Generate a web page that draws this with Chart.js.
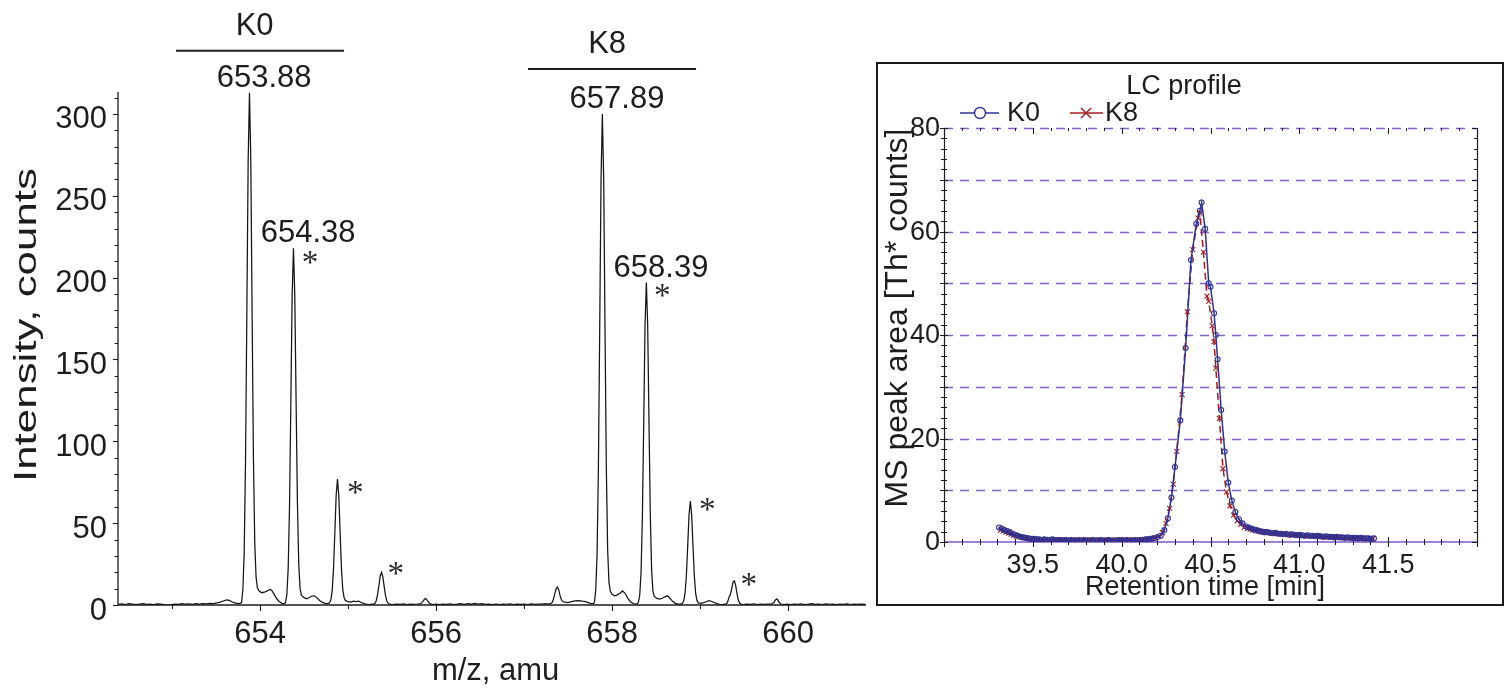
<!DOCTYPE html>
<html>
<head>
<meta charset="utf-8">
<script src="https://cdn.jsdelivr.net/npm/chart.js@4.4.1/dist/chart.umd.min.js"></script>
<style>
  html, body { margin: 0; padding: 0; background: #ffffff; width: 1505px; height: 689px; overflow: hidden; }
  #msWrap { position: absolute; left: 0; top: 0; width: 876px; height: 689px; }
  #box { position: absolute; left: 876px; top: 62px; width: 628px; height: 544px; border: 2px solid #1a1a1a; box-sizing: border-box; }
  #lcWrap { position: absolute; left: 0; top: 0; width: 624px; height: 540px; }
</style>
</head>
<body>
<div id="msWrap"><canvas id="ms" width="876" height="689"></canvas></div>
<div id="box"><div id="lcWrap"><canvas id="lc" width="624" height="540"></canvas></div></div>
<script>
// ---------------- DATA: mass spectrum (left) ----------------
const msMz = [
  652.39,652.43,652.47,652.51,652.55,652.59,652.63,652.67,652.71,652.75,652.79,652.83,652.87,652.91,652.95,652.99,653.03,653.07,653.11,653.15,653.19,653.23,653.27,653.31,653.35,653.39,653.43,653.47,
  653.51,653.55,653.59,653.62,653.65,653.68,653.71,653.74,653.77,
  653.79,653.805,653.82,653.835,653.85,653.865,653.88,653.895,653.91,653.925,653.94,653.955,653.97,653.99,
  654.02,654.05,654.08,654.11,654.13,654.16,654.19,654.22,654.25,654.28,
  654.29,654.305,654.32,654.335,654.35,654.365,654.38,654.395,654.41,654.425,654.44,654.455,654.47,
  654.50,654.53,654.56,654.59,654.62,654.65,654.68,654.71,654.74,654.77,
  654.79,654.805,654.82,654.835,654.85,654.865,654.88,654.895,654.91,654.925,654.94,654.955,654.97,
  655.00,655.03,655.06,655.09,655.12,655.15,655.18,655.21,655.24,655.27,
  655.29,655.305,655.32,655.335,655.35,655.365,655.38,655.395,655.41,655.425,655.44,655.455,655.47,
  655.51,655.55,655.59,655.63,655.67,655.71,655.75,655.79,
  655.83,655.85,655.865,655.88,655.895,655.91,655.93,655.96,
  656.00,656.04,656.08,656.12,656.16,656.20,656.24,656.28,656.32,656.36,656.40,656.44,656.48,656.52,656.56,656.60,656.64,656.68,656.72,656.76,656.80,656.84,656.88,656.92,656.96,657.00,657.04,657.08,657.12,657.16,657.20,657.24,657.28,
  657.30,657.32,657.335,657.35,657.365,657.38,657.395,657.41,657.425,657.44,657.46,
  657.50,657.54,657.58,657.62,657.66,657.70,657.73,657.76,657.79,
  657.80,657.815,657.83,657.845,657.86,657.875,657.89,657.905,657.92,657.935,657.95,657.965,657.98,
  658.00,658.03,658.06,658.09,658.12,658.15,658.18,658.21,658.24,658.27,658.29,
  658.30,658.315,658.33,658.345,658.36,658.375,658.39,658.405,658.42,658.435,658.45,658.465,658.48,
  658.51,658.54,658.57,658.60,658.63,658.66,658.69,658.72,658.75,658.78,
  658.80,658.815,658.83,658.845,658.86,658.875,658.89,658.905,658.92,658.935,658.95,658.965,658.98,
  659.01,659.04,659.07,659.10,659.13,659.16,659.19,659.22,659.25,659.28,
  659.30,659.315,659.33,659.345,659.36,659.375,659.39,659.405,659.42,659.435,659.45,659.465,
  659.49,659.53,659.57,659.61,659.65,659.69,659.73,659.77,659.81,
  659.84,659.855,659.87,659.885,659.90,659.92,659.95,
  659.99,660.03,660.07,660.11,660.15,660.19,660.23,660.27,660.31,660.35,660.39,660.43,660.47,660.51,660.55,660.59,660.63,660.67,660.71,660.75,660.79,660.83,660.88
];
const msIntensity = [
  0.4,0.7,0.3,0.8,0.5,0.2,0.6,0.9,0.4,0.6,0.3,0.7,0.5,0.2,0.1,0.3,0.6,0.4,0.8,0.5,0.7,0.4,0.9,0.6,0.8,0.7,1.0,0.9,
  1.3,1.8,2.6,3.1,2.8,2.0,1.3,1.0,0.9,
  1.5,9.5,32,87,177,271,313,272,178,90,38,17,10.5,8.5,
  7.5,7.8,8.6,9.5,9.2,6.5,3.8,2.0,1.0,0.8,
  1.6,6.5,22.5,60,123,189,218,189,124,62,25,10,6,
  4.5,3.8,4.6,5.5,5.6,4.2,2.6,1.6,1.0,0.9,
  1.4,3.2,8.8,22,44,67,77,67,44.5,22.5,9.5,4.5,2.8,
  2.0,1.8,2.3,2.0,2.4,1.5,0.8,0.5,0.3,0.5,
  0.5,0.9,2.6,6.2,11.5,17.5,20,17.5,11.5,6,2.6,1.1,0.5,
  0.3,0.6,0.4,0.7,0.3,0.5,0.4,0.6,
  0.9,2.0,3.3,4.0,3.3,2.0,0.8,0.3,
  0.5,0.2,0.6,0.4,0.7,0.3,0.5,0.8,0.4,0.9,0.6,1.0,0.5,0.8,0.4,0.6,0.3,0.5,0.2,0.6,0.4,0.7,0.3,0.5,0.4,0.6,0.3,0.7,0.4,0.6,0.5,0.8,0.6,
  0.8,1.6,3.6,7.0,10,11,9.2,5.6,3.2,2.1,1.7,
  1.5,2.0,2.5,2.7,2.3,2.0,1.4,0.8,0.9,
  1.6,9,31,83,169,260,300,261,170,85,34,14,8.5,
  6.5,5.6,6.2,7.2,8.6,7.0,4.0,2.0,0.9,0.5,0.8,
  1.8,6.2,20,54,111,171,197,171,112,55,21,8.5,5.2,
  4.0,3.6,4.1,5.0,5.6,4.0,2.1,1.0,0.5,0.6,
  1.0,2.6,7.2,18,36,55,63.5,55,36,18,7.2,2.8,1.3,
  1.0,1.4,2.0,2.6,2.3,1.5,0.8,0.4,0.3,0.5,
  0.6,2.1,4.8,6.5,10,14,14.7,12,7,3,1.2,0.5,
  0.3,0.6,0.4,0.7,0.3,0.5,0.4,0.6,0.5,
  1.5,3.0,3.7,3.0,1.5,0.6,0.3,
  0.5,0.2,0.6,0.4,0.7,0.3,0.5,0.8,0.4,0.6,0.3,0.7,0.4,0.5,0.3,0.6,0.4,0.7,0.3,0.5,0.4,0.6,0.4
];
const msTickValues = [654, 656, 658, 660];
const msMinorTickValues = [653, 655, 657, 659];
const intensityTickValues = [0, 50, 100, 150, 200, 250, 300];
const groupNames = ['K0', 'K8'];
const groupCenterMz = [654, 658];
const peakLabelMz = [653.88, 654.38, 657.89, 658.39];
const peakLabelText = ['653.88', '654.38', '657.89', '658.39'];
const peakLabelHeight = [313, 218, 300, 197];
const starMz = [654.57, 655.085, 655.545, 658.574, 659.085, 659.557];
const starLevel = [212.3, 71.5, 22, 192.1, 61.4, 15.3];

// ---------------- DATA: LC profile (right) ----------------
const k0Time = [
  39.310,39.325,39.340,39.355,39.370,39.385,39.400,39.415,39.430,39.445,
  39.460,39.475,39.490,39.505,39.520,39.535,39.550,39.565,39.580,39.595,39.610,39.625,39.640,39.655,39.670,39.685,39.700,39.715,39.730,39.745,
  39.760,39.775,39.790,39.805,39.820,39.835,39.850,39.865,39.880,39.895,39.910,39.925,39.940,39.955,39.970,39.985,40.000,40.015,40.030,40.045,
  40.060,40.075,40.090,40.105,40.120,40.135,40.150,40.165,40.180,
  40.20,40.22,40.24,40.26,40.28,40.30,40.33,40.36,40.39,40.42,40.44,40.45,40.47,40.49,40.50,40.52,40.53,40.54,40.56,40.58,40.60,40.62,40.64,40.66,40.68,40.70,
  40.715,40.730,40.745,40.760,40.775,40.790,40.805,40.820,40.835,40.850,40.865,40.880,40.895,40.910,40.925,40.940,40.955,40.970,40.985,41.000,
  41.015,41.030,41.045,41.060,41.075,41.090,41.105,41.120,41.135,41.150,41.165,41.180,41.195,41.210,41.225,41.240,41.255,41.270,41.285,41.300,
  41.315,41.330,41.345,41.360,41.375,41.390,41.405,41.420
];
const k0Area = [
  2.8,2.6,2.3,2.1,1.9,1.6,1.4,1.2,1.0,0.9,
  0.8,0.7,0.6,0.6,0.5,0.5,0.4,0.5,0.4,0.4,0.5,0.3,0.4,0.4,0.3,0.4,0.3,0.4,0.3,0.3,
  0.4,0.3,0.4,0.3,0.3,0.4,0.3,0.3,0.4,0.3,0.3,0.4,0.3,0.3,0.3,0.4,0.3,0.3,0.4,0.3,
  0.3,0.4,0.3,0.4,0.4,0.5,0.5,0.6,0.7,
  0.9,1.2,2.3,4.6,8.6,14.5,23.5,37.5,54.5,61.5,64.0,65.6,60.5,50.0,49.3,44.2,40.0,35.3,25.5,17.5,11.5,8.0,5.8,4.4,3.6,3.0,
  2.8,2.6,2.4,2.3,2.1,2.0,1.9,1.9,1.8,1.7,1.8,1.6,1.6,1.5,1.6,1.4,1.5,1.4,1.3,1.4,
  1.3,1.2,1.3,1.2,1.2,1.1,1.2,1.1,1.0,1.1,1.0,1.0,0.9,1.0,0.9,0.9,0.8,0.9,0.8,0.8,
  0.8,0.7,0.8,0.7,0.7,0.7,0.6,0.7
];
const k8Time = [
  39.318,39.333,39.348,39.363,39.378,39.393,39.408,39.423,39.438,39.453,
  39.468,39.483,39.498,39.513,39.528,39.543,39.558,39.573,39.588,39.603,39.618,39.633,39.648,39.663,39.678,39.693,39.708,39.723,39.738,39.753,
  39.768,39.783,39.798,39.813,39.828,39.843,39.858,39.873,39.888,39.903,39.918,39.933,39.948,39.963,39.978,39.993,40.008,40.023,40.038,40.053,
  40.068,40.083,40.098,40.113,40.128,40.143,40.158,40.173,40.188,
  40.21,40.23,40.25,40.27,40.29,40.31,40.34,40.37,40.40,40.43,40.44,40.46,40.48,40.49,40.51,40.52,40.53,40.55,40.57,40.59,40.61,40.63,40.65,40.67,40.69,
  40.708,40.723,40.738,40.753,40.768,40.783,40.798,40.813,40.828,40.843,40.858,40.873,40.888,40.903,40.918,40.933,40.948,40.963,40.978,40.993,
  41.008,41.023,41.038,41.053,41.068,41.083,41.098,41.113,41.128,41.143,41.158,41.173,41.188,41.203,41.218,41.233,41.248,41.263,41.278,41.293,
  41.308,41.323,41.338,41.353,41.368,41.383,41.398,41.413
];
const k8Area = [
  2.3,2.1,1.9,1.7,1.5,1.3,1.1,1.0,0.9,0.8,
  0.7,0.6,0.6,0.5,0.5,0.4,0.4,0.5,0.3,0.4,0.4,0.3,0.4,0.3,0.4,0.3,0.3,0.4,0.3,0.4,
  0.3,0.3,0.4,0.3,0.4,0.3,0.3,0.4,0.3,0.3,0.4,0.3,0.3,0.4,0.3,0.3,0.4,0.3,0.4,0.3,
  0.4,0.3,0.4,0.4,0.5,0.5,0.6,0.7,0.8,
  1.1,1.8,3.6,6.5,11.2,17.5,28.5,44.5,56.5,62.6,63.6,56.0,47.5,46.5,41.8,38.7,33.6,23.9,14.2,9.7,7.0,5.2,4.1,3.4,2.8,
  2.6,2.5,2.3,2.2,2.1,2.0,1.9,1.8,1.8,1.7,1.7,1.6,1.6,1.5,1.5,1.4,1.5,1.3,1.4,1.3,
  1.3,1.2,1.2,1.2,1.1,1.2,1.1,1.1,1.0,1.0,1.0,0.9,1.0,0.9,0.9,0.9,0.8,0.8,0.8,0.8,
  0.7,0.8,0.7,0.7,0.7,0.6,0.7,0.6
];
const lcXTickValues = [39.5, 40.0, 40.5, 41.0, 41.5];
const lcXTickLabels = ['39.5', '40.0', '40.5', '41.0', '41.5'];
const lcYTickValues = [0, 20, 40, 60, 80];
const lcGridValues = [10, 20, 30, 40, 50, 60, 70, 80];
const seriesNames = ['K0', 'K8'];

// ---------------- helpers ----------------
const FONT = '"Liberation Sans", Arial, Helvetica, sans-serif';
const SERIF = '"Liberation Serif", "Times New Roman", serif';
const INK = '#1e1c1d';
const BLUE = '#2e3192';
const RED = '#a31d20';
const PURPLE = '#8562c6';

function pts(xs, ys) {
  const n = Math.min(xs.length, ys.length);
  const out = [];
  for (let i = 0; i < n; i++) out.push({ x: xs[i], y: ys[i] });
  return out;
}
function inkText(ctx, str, cx, cy, font, color) {
  ctx.font = font; ctx.fillStyle = color; ctx.textAlign = 'left'; ctx.textBaseline = 'alphabetic';
  const m = ctx.measureText(str);
  const w = m.actualBoundingBoxLeft + m.actualBoundingBoxRight;
  const h = m.actualBoundingBoxAscent + m.actualBoundingBoxDescent;
  ctx.fillText(str, cx - w / 2 + m.actualBoundingBoxLeft, cy + h / 2 - m.actualBoundingBoxDescent);
}
function line(ctx, x0, y0, x1, y1) { ctx.beginPath(); ctx.moveTo(x0, y0); ctx.lineTo(x1, y1); ctx.stroke(); }

// ---------------- left chart decorations ----------------
const msDecor = {
  id: 'msDecor',
  afterDraw(chart) {
    const { ctx, chartArea: { left, right, top, bottom }, scales: { x, y } } = chart;
    ctx.save();
    ctx.strokeStyle = INK; ctx.lineWidth = 1.3;
    line(ctx, left, bottom, left, top);
    line(ctx, left, bottom, right, bottom);
    ctx.lineWidth = 1.1;
    intensityTickValues.forEach(v => { const p = Math.round(y.getPixelForValue(v)) + 0.5; line(ctx, left - 5, p, left, p); });
    for (let v = 10; v <= 310; v += 10) {
      if (v % 50 === 0) continue;
      const p = Math.round(y.getPixelForValue(v)) + 0.5; line(ctx, left - 3.5, p, left, p);
    }
    msTickValues.forEach(v => { const p = Math.round(x.getPixelForValue(v)) + 0.5; line(ctx, p, bottom, p, bottom + 6); });
    msMinorTickValues.forEach(v => { const p = Math.round(x.getPixelForValue(v)) + 0.5; line(ctx, p, bottom, p, bottom + 4); });

    // axis titles
    ctx.save();
    ctx.font = '32px ' + FONT; ctx.fillStyle = INK;
    const tw = ctx.measureText('Intensity, counts').width;
    ctx.translate(36, 325); ctx.rotate(-Math.PI / 2); ctx.scale(314 / tw, 1);
    ctx.textAlign = 'center'; ctx.textBaseline = 'alphabetic';
    ctx.fillText('Intensity, counts', 0, 0);
    ctx.restore();
    inkText(ctx, 'm/z, amu', (left + right) / 2 + 4, 670, '31px ' + FONT, INK);

    // group bars + names
    ctx.strokeStyle = INK; ctx.lineWidth = 2;
    groupNames.forEach((name, i) => {
      const c = groupCenterMz[i];
      const x0 = x.getPixelForValue(c - 0.955), x1 = x.getPixelForValue(c + 0.955);
      const by = i === 0 ? 50.7 : 69;
      line(ctx, x0, by, x1, by);
      inkText(ctx, name, x.getPixelForValue(c) - 4.5, by - 26.8, '31px ' + FONT, INK);
    });
    // peak labels
    peakLabelMz.forEach((mz, i) => {
      inkText(ctx, peakLabelText[i], x.getPixelForValue(mz) + 14.5, y.getPixelForValue(peakLabelHeight[i]) - 17, '31px ' + FONT, INK);
    });
    // asterisks
    ctx.font = '40px ' + SERIF;
    const m = ctx.measureText('*');
    const size = 40 * 15 / (m.actualBoundingBoxLeft + m.actualBoundingBoxRight);
    starMz.forEach((mz, i) => {
      inkText(ctx, '*', x.getPixelForValue(mz), y.getPixelForValue(starLevel[i]), size.toFixed(1) + 'px ' + SERIF, '#2a2a2a');
    });
    ctx.restore();
  }
};

new Chart(document.getElementById('ms'), {
  type: 'line',
  data: {
    datasets: [{
      label: 'spectrum',
      data: pts(msMz, msIntensity),
      borderColor: '#151515', borderWidth: 1.25, pointRadius: 0, fill: false, tension: 0
    }]
  },
  options: {
    responsive: false, animation: false, devicePixelRatio: 1, events: [],
    layout: { padding: { left: 0, top: 92, right: 10, bottom: 0 } },
    plugins: { legend: { display: false }, tooltip: { enabled: false }, title: { display: false } },
    scales: {
      x: {
        type: 'linear', min: 652.386, max: 660.886,
        afterBuildTicks: s => { s.ticks = msTickValues.map(v => ({ value: v })); },
        afterFit: s => { s.height = 84; },
        grid: { display: false, drawTicks: false }, border: { display: false },
        ticks: { font: { family: FONT, size: 31 }, color: INK, padding: 11, maxRotation: 0, autoSkip: false, callback: v => String(v) }
      },
      y: {
        type: 'linear', min: 0, max: 313.4,
        afterBuildTicks: s => { s.ticks = intensityTickValues.map(v => ({ value: v })); },
        afterFit: s => { s.width = 118; },
        grid: { display: false, drawTicks: false }, border: { display: false },
        ticks: { font: { family: FONT, size: 31 }, color: INK, padding: 11, labelOffset: 6, autoSkip: false, callback: v => String(v) }
      }
    }
  },
  plugins: [msDecor]
});

// ---------------- right chart decorations ----------------
const lcDecor = {
  id: 'lcDecor',
  beforeDatasetsDraw(chart) {
    const { ctx, chartArea: { left, right, top, bottom }, scales: { x, y } } = chart;
    ctx.save();
    ctx.strokeStyle = PURPLE; ctx.lineWidth = 1.4;
    ctx.setLineDash([9, 7]);
    lcGridValues.forEach(v => { const p = Math.round(y.getPixelForValue(v)) + 0.5; line(ctx, left, p, right, p); });
    ctx.setLineDash([]);
    ctx.strokeStyle = '#9b82d4'; ctx.lineWidth = 2;
    const p0 = y.getPixelForValue(0); line(ctx, left, p0, right, p0);
    ctx.strokeStyle = INK; ctx.lineWidth = 1.2;
    line(ctx, left + 0.5, top, left + 0.5, bottom);
    line(ctx, right + 0.5, top, right + 0.5, bottom);
    ctx.lineWidth = 1;
    for (let k = 0; k <= 40; k++) {
      const v = k * 2; const p = Math.round(y.getPixelForValue(v)) + 0.5;
      const major = v % 10 === 0;
      line(ctx, left - (major ? 4 : 3), p, left + (major ? 4 : 3), p);
      line(ctx, right - (major ? 5 : 3), p, right, p);
    }
    for (let k = 0; k <= 30; k++) {
      const t = 39 + k / 10; const p = Math.round(x.getPixelForValue(t)) + 0.5;
      const major = k % 5 === 0;
      line(ctx, p, bottom - (major ? 5 : 3), p, bottom + (major ? 5 : 3));
      line(ctx, p, top, p, top + (major ? 6 : 3));
    }
    ctx.restore();
  },
  afterDraw(chart) {
    const { ctx, chartArea: { left } } = chart;
    ctx.save();
    ctx.fillStyle = INK; ctx.textAlign = 'center'; ctx.textBaseline = 'alphabetic';
    ctx.font = '27px ' + FONT;
    ctx.fillText('LC profile', left + 240, 30);
    ctx.fillText('Retention time [min]', left + 261, 531);
    ctx.save();
    ctx.font = '32px ' + FONT;
    ctx.translate(29, 254); ctx.rotate(-Math.PI / 2);
    ctx.fillText('MS peak area [Th* counts]', 0, 0);
    ctx.restore();
    const ly = 49;
    ctx.lineWidth = 1.4;
    ctx.strokeStyle = BLUE; line(ctx, 82, ly, 121, ly);
    ctx.beginPath(); ctx.arc(102, ly, 5.5, 0, Math.PI * 2); ctx.fillStyle = '#fff'; ctx.fill(); ctx.stroke();
    ctx.strokeStyle = RED; line(ctx, 192, ly, 225, ly);
    line(ctx, 203, ly - 5, 213, ly + 5); line(ctx, 203, ly + 5, 213, ly - 5);
    ctx.fillStyle = INK; ctx.textAlign = 'left'; ctx.font = '27px ' + FONT;
    ctx.fillText(seriesNames[0], 129, 57);
    ctx.fillText(seriesNames[1], 227, 57);
    ctx.restore();
  }
};

new Chart(document.getElementById('lc'), {
  type: 'line',
  data: {
    datasets: [
      {
        label: seriesNames[0], data: pts(k0Time, k0Area),
        borderColor: BLUE, borderWidth: 1.5, tension: 0, fill: false,
        pointStyle: 'circle', pointRadius: 2.5, pointBorderWidth: 1.1,
        pointBorderColor: BLUE, pointBackgroundColor: 'rgba(255,255,255,0)'
      },
      {
        label: seriesNames[1], data: pts(k8Time, k8Area),
        borderColor: RED, borderWidth: 1.5, borderDash: [7, 4], tension: 0, fill: false,
        pointStyle: 'crossRot', pointRadius: 3.5, pointBorderWidth: 1.1,
        pointBorderColor: RED, pointBackgroundColor: RED
      }
    ]
  },
  options: {
    responsive: false, animation: false, devicePixelRatio: 1, events: [],
    layout: { padding: { left: 0, top: 64, right: 25, bottom: 0 } },
    plugins: { legend: { display: false }, tooltip: { enabled: false }, title: { display: false } },
    scales: {
      x: {
        type: 'linear', min: 39.0, max: 42.0,
        afterBuildTicks: s => { s.ticks = lcXTickValues.map(v => ({ value: v })); },
        afterFit: s => { s.height = 62; },
        grid: { display: false, drawTicks: false }, border: { display: false },
        ticks: { font: { family: FONT, size: 27 }, color: INK, padding: 7, maxRotation: 0, autoSkip: false,
                 callback: (v, i) => lcXTickLabels[i] }
      },
      y: {
        type: 'linear', min: 0, max: 80,
        afterBuildTicks: s => { s.ticks = lcYTickValues.map(v => ({ value: v })); },
        afterFit: s => { s.width = 66; },
        grid: { display: false, drawTicks: false }, border: { display: false },
        ticks: { font: { family: FONT, size: 27 }, color: INK, padding: 4, labelOffset: 1, autoSkip: false, callback: v => String(v) }
      }
    }
  },
  plugins: [lcDecor]
});
</script>
</body>
</html>
